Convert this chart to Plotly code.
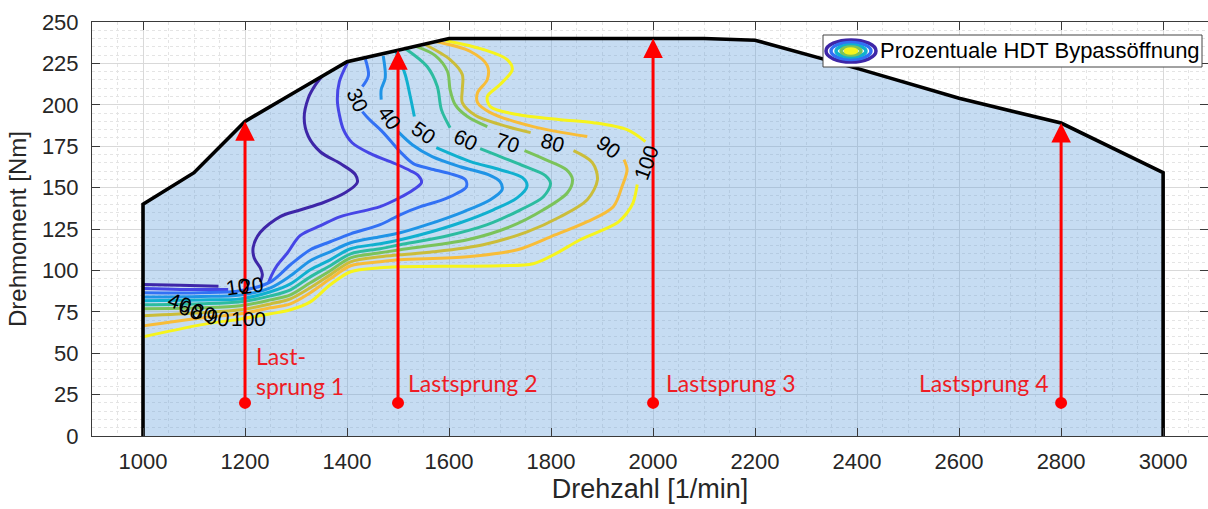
import plotly.graph_objects as go

# ---------------------------------------------------------------------------
# Full-load envelope of the engine map
env_rpm = [1000, 1000, 1100, 1200, 1300, 1400, 1500, 1600, 2100, 2200, 2400, 2600, 2800, 3000, 3000]
env_nm = [0, 140, 159, 190, 208, 226, 233, 240, 240, 239, 222, 204, 189, 159, 0]

# Load steps (start torque -> full-load torque)
step_rpm = [1200, 1500, 2000, 2800]
step_start_nm = [20, 20, 20, 20]
step_end_nm = [190, 233, 240, 189]
step_labels = ["Last-<br>sprung 1", "Lastsprung 2", "Lastsprung 3", "Lastsprung 4"]

# Iso-lines of the HDT bypass opening [%]; None marks the gap left for a label
iso_levels = [10, 20, 30, 40, 50, 60, 70, 80, 90, 100]

iso10_rpm = [1000, 1073, 1148, None, 1230, 1234, 1230, 1218, 1216, 1230, 1269, 1308, 1354, 1397, 1420,
             1416, 1387, 1348, 1324, 1316, 1324, 1338, 1352]
iso10_nm = [91.5, 91, 90.5, None, 93, 97.5, 101.5, 107.5, 114, 123, 132.5, 136.5, 141, 147, 153,
            158, 164.5, 171.5, 181, 192, 204, 212, 217.5]

iso20_rpm = [1000, 1073, 1167, None, 1246, 1252, 1263, 1283, 1308, 1348, 1387, 1465, 1504, 1530, 1546,
             1540, 1524, 1499, 1446, 1410, 1393, 1385, 1381, 1385, 1401]
iso20_nm = [89, 88.5, 88.5, None, 92.5, 97, 103, 110.5, 121, 127, 132.5, 138.5, 144, 148.7, 153,
            157.2, 160.2, 163.8, 170.5, 177.1, 185, 194, 203.1, 214, 225.5]

iso30_rpm = [1000, 1113, 1191, 1250, 1289, 1328, 1367, 1407, 1465, 1504, 1544, 1583, 1614, 1634, 1632,
             1602, 1563, 1530, 1504, 1471, 1442, 1430, None, 1430, 1442, 1436]
iso30_nm = [86.5, 86.5, 87.7, 93.1, 103.4, 112.5, 117.3, 122.1, 127.6, 133.6, 138.5, 142.1, 146.3, 150.5, 154.8,
            158.4, 161.4, 164.5, 171.7, 183.2, 191.7, 195.9, None, 211, 217.7, 227.5]

iso40_rpm = [1000, 1113, 1191, 1250, 1289, 1328, 1367, 1407, 1465, 1504, 1557, 1628, 1681, 1704, 1700,
             1677, 1622, 1567, 1528, 1500, None, 1467, 1467, 1475, 1471]
iso40_nm = [84, 84.3, 85.2, 89.5, 96.7, 105.8, 111.2, 116.7, 120.3, 122.7, 127.6, 135.4, 142.7, 148.7, 153.6,
            157.8, 162.6, 168.7, 175.9, 183.8, None, 203.1, 209.2, 216.4, 229.5]

iso50_rpm = [1000, 1113, 1191, 1250, 1289, 1328, 1367, 1407, 1465, 1504, 1544, 1622, 1687, 1734, 1753,
             1744, 1700, 1642, 1575, None, 1532, 1524, 1514, 1495]
iso50_nm = [81.6, 82.2, 82.8, 87.1, 91.9, 100.4, 106.4, 113.1, 116.1, 118.5, 121.5, 128.8, 136.6, 143.9, 151.1,
            156, 160.8, 165.7, 174.1, None, 192.9, 205, 218.3, 232.5]

iso60_rpm = [1000, 1113, 1191, 1250, 1289, 1328, 1367, 1407, 1465, 1504, 1589, 1675, 1740, 1785, 1799,
             1789, 1750, 1691, 1661, None, 1602, 1585, 1577, 1557, 1514]
iso60_nm = [79.2, 79.8, 81, 84.6, 88.3, 96.1, 102.8, 110, 113.1, 115.5, 120.3, 127.6, 136.6, 144.5, 152.4,
            157.2, 162.6, 169.9, 173.5, None, 186.2, 197.1, 211, 223.1, 234]

iso70_rpm = [1000, 1113, 1191, 1250, 1289, 1328, 1367, 1407, 1465, 1504, 1636, 1720, 1785, 1832, 1842,
             1830, 1789, 1748, None, 1675, 1636, 1612, 1602, 1597, 1573, 1534]
iso70_nm = [76.8, 77.4, 78.6, 82.2, 85.2, 92.5, 99.8, 107.6, 110.6, 112.5, 118.5, 126.4, 136.6, 146.9, 154.8,
            160.8, 166.9, 172.3, None, 186.8, 192.9, 200.1, 209.2, 220.1, 229.7, 235.4]

iso80_rpm = [1000, 1113, 1191, 1250, 1289, 1328, 1367, 1407, 1465, 1504, 1569, 1667, 1753, 1818, 1871,
             1891, 1881, 1844, None, 1760, 1701, 1652, 1626, 1626, 1626, 1602, 1553]
iso80_nm = [72.6, 74.4, 76.2, 79.8, 82.8, 89.5, 97.3, 105.2, 108.2, 109.4, 111.2, 115.5, 123.3, 132.4, 142.7,
            154.8, 165.1, 172.3, None, 183.2, 188, 193.5, 201.3, 209.2, 218.3, 227.3, 236.4]

iso90_rpm = [1000, 1113, 1191, 1250, 1289, 1328, 1367, 1407, 1465, 1504, 1636, 1734, 1799, 1871, 1922,
             1939, 1949, 1943, None, 1871, 1765, 1681, 1656, 1656, 1675, 1675, 1642, 1573]
iso90_nm = [66.5, 71.3, 73.8, 77.4, 79.8, 86.5, 94.9, 102.8, 105.2, 106.4, 108.2, 112.5, 120.3, 129.4, 138.5,
            150.5, 160.8, 166.9, None, 180.8, 186.8, 195.3, 201.3, 207.4, 215.2, 223.7, 232.2, 238.2]

iso100_rpm = [1000, 1113, 1191, 1250, 1289, 1328, 1367, 1407, 1465, 1504, 1700, 1765, 1812, 1857, 1930,
              1949, 1961, 1969, None, 1985, 1949, 1883, 1818, 1734, 1681, 1675, 1700, 1724, 1714, 1667, 1593]
iso100_nm = [59.9, 67.1, 70.7, 73.8, 76.2, 81, 91.3, 99.2, 101.6, 102.2, 102.8, 104, 110.6, 118.5, 128.8,
             134.8, 140.9, 151.8, None, 177.8, 185, 189.2, 191, 194.1, 198.9, 205, 212.2, 221.3, 227.3, 233.4, 238.8]

# Inline contour labels: level, position, text angle
lbl_text = ["10", "20", "30", "40", "50", "60", "70", "80", "90", "100",
            "40", "60", "80", "90", "100"]
lbl_rpm = [1185, 1212, 1420, 1483, 1550, 1632, 1714, 1803, 1912, 1987,
           1071, 1093, 1118, 1146, 1207]
lbl_nm = [90.1, 90.7, 203.1, 192.3, 183.2, 179, 177.1, 177.1, 174.7, 165,
          80.4, 76.2, 74.4, 71.3, 70.7]
lbl_angle = [-8, -8, 66, 55, 35, 25, 18, 15, 37, -70,
             20, 20, 15, 10, 0]

iso_x = [iso10_rpm, iso20_rpm, iso30_rpm, iso40_rpm, iso50_rpm,
         iso60_rpm, iso70_rpm, iso80_rpm, iso90_rpm, iso100_rpm]
iso_y = [iso10_nm, iso20_nm, iso30_nm, iso40_nm, iso50_nm,
         iso60_nm, iso70_nm, iso80_nm, iso90_nm, iso100_nm]

# parula-like colours, one per level
iso_colors = ["#3e26a8", "#4646e6", "#3271f4", "#1f94e6", "#10b0cf",
              "#2cbca0", "#7bc35a", "#cbbd3a", "#f8bd38", "#f6f41c"]

AX = "#3a3a3a"
TXT = "#262626"

fig = go.Figure()

# shaded operating range
fig.add_trace(go.Scatter(x=env_rpm, y=env_nm, mode="lines", fill="toself",
                         fillcolor="rgba(100,160,220,0.37)", line=dict(width=0),
                         hoverinfo="skip", showlegend=False))

for xs, ys, col in zip(iso_x, iso_y, iso_colors):
    fig.add_trace(go.Scatter(x=xs, y=ys, mode="lines", connectgaps=False,
                             line=dict(color=col, width=3, shape="spline", smoothing=0.9),
                             hoverinfo="skip", showlegend=False))

# full-load line
fig.add_trace(go.Scatter(x=env_rpm, y=env_nm, mode="lines",
                         line=dict(color="black", width=3.6),
                         hoverinfo="skip", showlegend=False))

# load-step start points
fig.add_trace(go.Scatter(x=step_rpm, y=step_start_nm, mode="markers",
                         marker=dict(color="#ff0000", size=12),
                         hoverinfo="skip", showlegend=False))

annotations = []
for xr, y0, y1 in zip(step_rpm, step_start_nm, step_end_nm):
    annotations.append(dict(x=xr, y=y1, ax=xr, ay=y0, xref="x", yref="y",
                            axref="x", ayref="y", text="", showarrow=True,
                            arrowhead=2, arrowsize=1.3, arrowwidth=3,
                            arrowcolor="#ff0000", standoff=0, startstandoff=0))

red_font = dict(family="Lato, Open Sans, sans-serif", size=23, color="#ee1c25")
annotations.append(dict(x=step_rpm[0] + 18, y=39, xref="x", yref="y", text=step_labels[0],
                        showarrow=False, xanchor="left", align="left", font=red_font))
annotations.append(dict(x=step_rpm[1] + 16, y=32, xref="x", yref="y", text=step_labels[1],
                        showarrow=False, xanchor="left", font=red_font))
annotations.append(dict(x=step_rpm[2] + 22, y=32, xref="x", yref="y", text=step_labels[2],
                        showarrow=False, xanchor="left", font=red_font))
annotations.append(dict(x=step_rpm[3] - 20, y=32, xref="x", yref="y", text=step_labels[3],
                        showarrow=False, xanchor="right", font=red_font))

lbl_font = dict(family="Liberation Sans, Arial, sans-serif", size=21, color="black")
for t, xr, yn, ang in zip(lbl_text, lbl_rpm, lbl_nm, lbl_angle):
    annotations.append(dict(x=xr, y=yn, xref="x", yref="y", text=t, showarrow=False,
                            textangle=ang, font=lbl_font))

# legend drawn by hand: box, concentric ellipse icon and text
L, T, W, H = 92, 22, 1116, 414


def px(xp):
    return (xp - L) / W


def py(yp):
    return (T + H - yp) / H


shapes = [dict(type="rect", xref="paper", yref="paper", x0=px(823), x1=px(1202),
               y0=py(67), y1=py(35), line=dict(color="#444444", width=1), fillcolor="white")]
ring_sizes = [(50, 22), (40, 17), (30, 12), (20, 8), (11, 4)]
ring_cols = ["#3e26a8", "#3271f4", "#10b0cf", "#7bc35a", "#f6f41c"]
for (rw, rh), rc in zip(ring_sizes, ring_cols):
    shapes.append(dict(type="circle", xref="paper", yref="paper", xsizemode="pixel",
                       ysizemode="pixel", xanchor=px(851), yanchor=py(51),
                       x0=-rw / 2, x1=rw / 2, y0=-rh / 2, y1=rh / 2,
                       line=dict(color=rc, width=3.5),
                       fillcolor=rc if rw < 15 else "rgba(0,0,0,0)"))
annotations.append(dict(x=px(878), y=py(51), xref="paper", yref="paper",
                        text="Prozentuale HDT Bypassöffnung", showarrow=False,
                        xanchor="left", yanchor="middle",
                        font=dict(family="Liberation Sans, Arial, sans-serif", size=22, color="black")))

axis_font = dict(family="Liberation Sans, Arial, sans-serif", size=22, color=TXT)
xtitle_font = dict(family="Liberation Sans, Arial, sans-serif", size=27, color=TXT)
ytitle_font = dict(family="Liberation Sans, Arial, sans-serif", size=24, color=TXT)

fig.update_layout(
    width=1208, height=509,
    margin=dict(l=L, r=0, t=T, b=509 - T - H),
    paper_bgcolor="white", plot_bgcolor="white",
    showlegend=False,
    annotations=annotations, shapes=shapes,
    xaxis=dict(range=[900, 3088], tickvals=[1000, 1200, 1400, 1600, 1800, 2000, 2200, 2400, 2600, 2800, 3000],
               showgrid=True, gridcolor="#d9d9d9", gridwidth=1,
               minor=dict(dtick=50, showgrid=True, gridcolor="#e4e4e4", griddash="dot", ticks=""),
               showline=True, linecolor=AX, linewidth=1, mirror="ticks",
               ticks="inside", ticklen=8, tickcolor=AX, tickfont=axis_font,
               ticklabelstandoff=6, zeroline=False, automargin=False,
               title=dict(text="Drehzahl [1/min]", font=xtitle_font, standoff=4)),
    yaxis=dict(range=[0, 250], tickvals=[0, 25, 50, 75, 100, 125, 150, 175, 200, 225, 250],
               showgrid=True, gridcolor="#d9d9d9", gridwidth=1,
               minor=dict(dtick=5, showgrid=True, gridcolor="#e4e4e4", griddash="dot", ticks=""),
               showline=True, linecolor=AX, linewidth=1, mirror="ticks",
               ticks="inside", ticklen=8, tickcolor=AX, tickfont=axis_font,
               ticklabelstandoff=8, zeroline=False, automargin=False,
               title=dict(text="Drehmoment [Nm]", font=ytitle_font, standoff=8)),
)

fig.write_html("out.html")
